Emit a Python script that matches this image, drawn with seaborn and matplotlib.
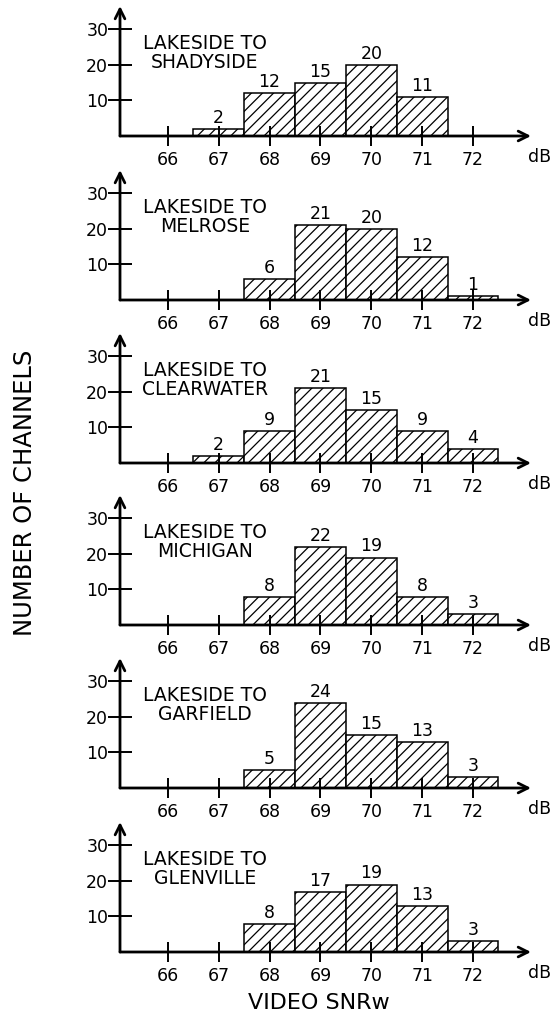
import pandas as pd
import seaborn as sns
import matplotlib.pyplot as plt

# SNR bins (dB) and channel counts for each link
routes = ['SHADYSIDE', 'MELROSE', 'CLEARWATER', 'MICHIGAN', 'GARFIELD', 'GLENVILLE']
snr_bins = [66, 67, 68, 69, 70, 71, 72]
shadyside = [0, 2, 12, 15, 20, 11, 0]
melrose = [0, 0, 6, 21, 20, 12, 1]
clearwater = [0, 2, 9, 21, 15, 9, 4]
michigan = [0, 0, 8, 22, 19, 8, 3]
garfield = [0, 0, 5, 24, 15, 13, 3]
glenville = [0, 0, 8, 17, 19, 13, 3]
y_ticks = [10, 20, 30]

counts = [shadyside, melrose, clearwater, michigan, garfield, glenville]

sns.set_style('white', {'text.color': 'black', 'xtick.color': 'black',
                        'ytick.color': 'black'})
plt.rcParams['font.family'] = ['DejaVu Sans']
plt.rcParams['hatch.color'] = 'black'
plt.rcParams['hatch.linewidth'] = 0.9

W, H = 550, 1019
fig = plt.figure(figsize=(W / 100, H / 100), dpi=100)

# x-axis baseline (px from top) for each panel
baselines = [136, 300, 463, 625, 788, 952]
ax_left, ax_right = 120, 531
ax_h = 130
fs = 12.5

for route, vals, base in zip(routes, counts, baselines):
    ax = fig.add_axes([ax_left / W, 1 - base / H, (ax_right - ax_left) / W, ax_h / H])
    df = pd.DataFrame({'snr': snr_bins, 'n': vals})
    df = df[df['n'] > 0]
    sns.histplot(data=df, x='snr', weights='n', discrete=True, shrink=1,
                 color='white', edgecolor='black', linewidth=1.1,
                 hatch='///', ax=ax)
    for x, n in zip(df['snr'], df['n']):
        ax.annotate(str(n), (x, n), xytext=(0, 1.5), textcoords='offset points',
                    ha='center', va='bottom', fontsize=fs)

    ax.set_xlim(65.06, 73.14)
    ax.set_ylim(0, 36.6)
    ax.set_xlabel('')
    ax.set_ylabel('')
    ax.set_axisbelow(False)
    for s in ax.spines.values():
        s.set_visible(False)
    ax.set_xticks(snr_bins)
    ax.set_yticks(y_ticks)
    ax.tick_params(axis='x', direction='inout', length=14, width=1.4,
                   labelsize=fs, pad=4, bottom=True)
    ax.tick_params(axis='y', direction='inout', length=17, width=1.4,
                   labelsize=fs, pad=0, left=True)

    # axis lines with open arrowheads
    arrow = dict(arrowstyle='->,head_length=0.7,head_width=0.35', lw=2,
                 color='black', shrinkA=0, shrinkB=0)
    ax.annotate('', xy=(1, 0), xytext=(0, 0), xycoords='axes fraction',
                arrowprops=arrow, annotation_clip=False)
    ax.annotate('', xy=(0, 1), xytext=(0, 0), xycoords='axes fraction',
                arrowprops=arrow, annotation_clip=False)

    ax.text(1.022, -0.16, 'dB', transform=ax.transAxes, ha='center',
            va='center', fontsize=fs)
    ax.text(66.73, 28.8, 'LAKESIDE TO\n' + route, ha='center', va='top',
            fontsize=13.5, linespacing=1.05)

fig.text(25 / W, 1 - 493 / H, 'NUMBER OF CHANNELS', rotation=90,
         ha='center', va='center', fontsize=17.5)
fig.text(319 / W, 1 - 1003 / H, 'VIDEO SNRw', ha='center', va='center',
         fontsize=16)

fig.savefig('out.png', dpi=100)
